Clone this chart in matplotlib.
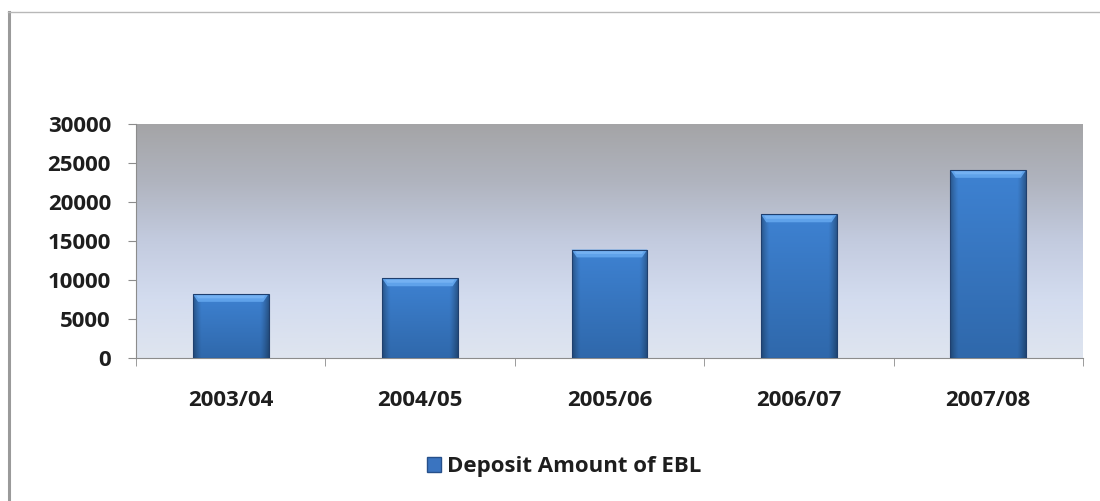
import numpy as np
import matplotlib
matplotlib.use("Agg")
import matplotlib.pyplot as plt
from matplotlib.colors import LinearSegmentedColormap, to_rgb
from matplotlib.patches import Patch, Polygon
from matplotlib.lines import Line2D

plt.rcParams["font.family"] = ["Open Sans", "DejaVu Sans"]
plt.rcParams["font.weight"] = "bold"

years = ["2003/04", "2004/05", "2005/06", "2006/07", "2007/08"]
deposits = [8200, 10200, 13900, 18400, 24100]
y_ticks = [0, 5000, 10000, 15000, 20000, 25000, 30000]
series_name = "Deposit Amount of EBL"

BAR_WIDTH = 0.4
BEVEL = 1000          # height of the light top bevel, in data units
TEXT = "#1e1e1e"
AXIS = "#8c8c8c"

bg_cmap = LinearSegmentedColormap.from_list(
    "plot_bg", ["#a4a4a6", "#b0b4bf", "#c3cbdf", "#d3dcef", "#dfe5ef"])


def bar_shading(n_rows=200, n_cols=120):
    # body colour: slightly lighter near the top, darker toward the base,
    # and dark bands down the left and right edges
    top = np.array(to_rgb("#3e82d2"))
    bottom = np.array(to_rgb("#2f68ab"))
    t = np.linspace(0, 1, n_rows).reshape(-1, 1, 1)
    rgb = top * (1 - t) + bottom * t
    u = np.linspace(-1, 1, n_cols)
    edge = 1 - 0.32 * np.clip((np.abs(u) - 0.78) / 0.22, 0, 1) ** 1.2
    rgb = rgb * edge.reshape(1, -1, 1)
    return np.clip(rgb, 0, 1)


fig = plt.figure(figsize=(11, 5.01), dpi=100)
ax = fig.add_axes([0.1236, 0.2854, 0.8609, 0.4671])

x = np.arange(len(years))
ax.set_xlim(-0.5, len(years) - 0.5)
ax.set_ylim(0, 30000)

# vertical grey-to-pale-blue fill behind the bars
grad = np.linspace(0, 1, 256).reshape(-1, 1)
ax.imshow(grad, cmap=bg_cmap, aspect="auto", origin="upper",
          extent=[-0.5, len(years) - 0.5, 0, 30000], zorder=0, interpolation="bicubic")

bars = ax.bar(x, deposits, width=BAR_WIDTH, facecolor="none", edgecolor="#1f3f6e",
              linewidth=0.8, zorder=5)
shade = bar_shading()
for rect, val in zip(bars, deposits):
    x0 = rect.get_x()
    w = rect.get_width()
    body = ax.imshow(shade, aspect="auto", origin="upper",
                     extent=[x0, x0 + w, 0, val], zorder=3, interpolation="bilinear")
    body.set_clip_path(rect)
    # trapezoid bevel along the top edge
    inset = w * 0.07
    bevel = Polygon([(x0, val), (x0 + w, val), (x0 + w - inset, val - BEVEL),
                     (x0 + inset, val - BEVEL)], closed=True, facecolor="#5fa2ea",
                    edgecolor="none", zorder=4)
    ax.add_patch(bevel)
    hi = Polygon([(x0 + inset * 0.6, val - BEVEL * 0.15), (x0 + w - inset * 0.6, val - BEVEL * 0.15),
                  (x0 + w - inset, val - BEVEL * 0.55), (x0 + inset, val - BEVEL * 0.55)],
                 closed=True, facecolor="#7ab6f5", edgecolor="none", alpha=0.8, zorder=4)
    ax.add_patch(hi)

ax.set_yticks(y_ticks)
ax.set_yticklabels([str(v) for v in y_ticks])
ax.set_xticks(x)
ax.set_xticklabels(years)
ax.set_xticks(np.arange(-0.5, len(years), 1.0), minor=True)
ax.tick_params(axis="y", length=6, color=AXIS, labelsize=16, pad=12, labelcolor=TEXT)
ax.tick_params(axis="x", which="major", length=0, labelsize=16, pad=23, labelcolor=TEXT)
ax.tick_params(axis="x", which="minor", length=6, color=AXIS)

for side in ["top", "right"]:
    ax.spines[side].set_visible(False)
ax.spines["left"].set_color(AXIS)
ax.spines["bottom"].set_color(AXIS)

handle = Patch(facecolor="#3a74c0", edgecolor="#26508a")
leg = fig.legend([handle], [series_name], loc="center", bbox_to_anchor=(0.513, 0.068),
                 frameon=False, fontsize=16, handlelength=0.62, handleheight=0.62,
                 handletextpad=0.3)
for txt in leg.get_texts():
    txt.set_color(TEXT)

# slide frame on the left and top edges
fig.add_artist(Line2D([0.008, 0.008], [0.0, 0.976], color="#9a9a9a", linewidth=2.2))
fig.add_artist(Line2D([0.007, 1.0], [0.976, 0.976], color="#b8b8b8", linewidth=1.0))

fig.savefig("out.png", dpi=100)
